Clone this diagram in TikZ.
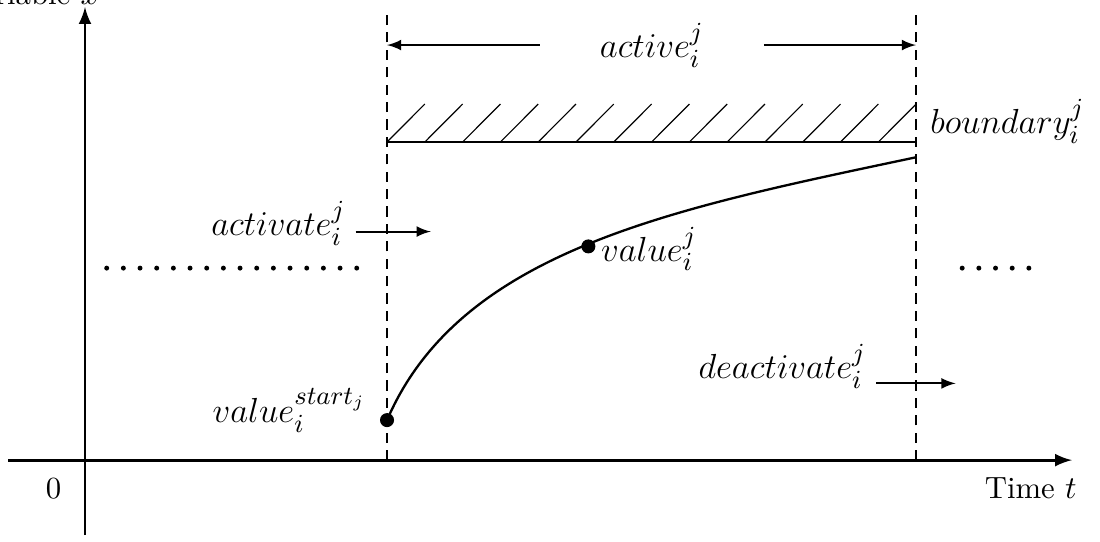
\documentclass[tikz,border=0pt]{standalone}
\usetikzlibrary{arrows}
\begin{document}
\begin{tikzpicture}[
    axis/.style={line width=1pt, -latex},
    limit/.style={line width=0.9pt, dash pattern=on 3.5pt off 2.5pt},
    pointer/.style={line width=0.7pt, -latex},
    tlabel/.style={font=\fontsize{10.6}{13}\selectfont},
    mlabel/.style={font=\fontsize{12.8}{15}\selectfont}]
    \useasboundingbox (-1.03,-0.98) rectangle (12.30,5.576);

    % Axes
    \draw[axis] (-0.93,0) -- (11.96,0);
    \draw[axis] (0,-0.91) -- (0,5.49);
    \node[tlabel, anchor=base east] (ylabel) at (0.29,5.52) {Variable $x$};
    \node[tlabel] (zero) at (-0.38,-0.34) {0};
    \node[tlabel, anchor=east] (xlabel) at (12.14,-0.34) {Time $t$};

    % Window limits (dashed)
    \coordinate (lefttop) at (3.66,5.48);
    \coordinate (righttop) at (10.07,5.48);
    \draw[limit] (3.66,0) -- (lefttop);
    \draw[limit] (10.07,0) -- (righttop);

    % active interval
    \node[mlabel, minimum width=2.7cm] (active) at (6.87,5.03) {$active_i^j$};
    \draw[pointer] (active.west) -- (active.west -| lefttop);
    \draw[pointer] (active.east) -- (active.east -| righttop);

    % Boundary with hatching
    \draw[line width=0.8pt] (3.66,3.855) -- (10.07,3.855);
    \foreach \k in {0,...,13}
        \draw[line width=0.4pt] ({3.66+0.458*\k},3.855) -- ++(0.458,0.46);
    \node[mlabel, anchor=base west] (boundary) at (10.12,3.96) {$boundary_i^j$};

    % Value curve
    \coordinate (vstart) at (3.66,0.485);
    \coordinate (vmid) at (6.1,2.59);
    \coordinate (vend) at (10.07,3.67);
    \draw[line width=0.8pt] (vstart) .. controls (4.55,2.55) and (7.14,3.05) .. (vend);
    \fill (vstart) circle (0.085);
    \fill (vmid) circle (0.085);
    \node[mlabel, anchor=east] (startlabel) at (3.53,0.6) {$value_i^{start_j}$};
    \node[mlabel, anchor=west] (midlabel) at (6.13,2.56) {$value_i^j$};

    % (de)activation events
    \coordinate (acttip) at (4.19,2.77);
    \node[mlabel, anchor=base east] (activate) at (3.28,2.72) {$activate_i^j$};
    \draw[pointer] (activate.east |- acttip) -- (acttip);
    \coordinate (deacttip) at (10.55,0.93);
    \node[mlabel, anchor=base east] (deactivate) at (9.59,0.99) {$deactivate_i^j$};
    \draw[pointer] (deactivate.east |- deacttip) -- (deacttip);

    % Dots (other intervals)
    \foreach \i in {0,...,15}
        \fill ({0.263+0.202*\i},2.327) circle (0.03);
    \foreach \i in {0,...,4}
        \fill ({10.63+0.202*\i},2.327) circle (0.03);
\end{tikzpicture}
\end{document}
